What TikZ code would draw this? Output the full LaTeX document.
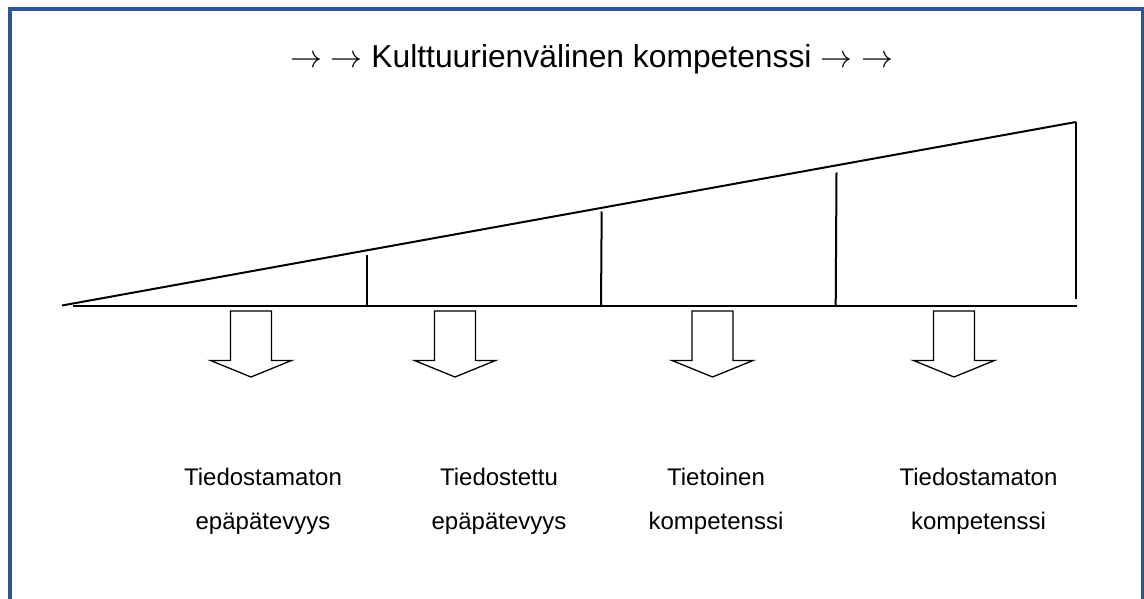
\documentclass[tikz,border=0pt]{standalone}
\usepackage{fontspec}
\setmainfont{Liberation Sans}
\definecolor{frameblue}{HTML}{2F5597}
\newcommand\ttlarrow{\scalebox{1.28}{$\rightarrow$}}
\begin{document}
\begin{tikzpicture}[x=1pt,y=-1pt,
  frame/.style={draw=frameblue,line width=4pt},
  ln/.style={draw=black,line width=2pt},
  downarrow/.style={draw=black,line width=1.3pt,line join=miter,fill=white},
  lbl/.style={font=\fontsize{24}{44}\selectfont,align=center,anchor=north,inner sep=0pt},
  ttl/.style={font=\fontsize{31.8}{36}\selectfont,anchor=base,inner sep=0pt}]
\useasboundingbox (0,0) rectangle (1144,599);
\begin{scope}
\clip (0,0) rectangle (1144,599);
\draw[frame] (9.5,9.3) rectangle (1143,640);
\end{scope}
% title
\node[ttl] (title) at (591.5,67.7) {\ttlarrow{} \ttlarrow{} Kulttuurienvälinen kompetenssi \ttlarrow{} \ttlarrow};
% wedge coordinates
\coordinate (sl) at (62,305.5);
\coordinate (bl) at (73,306);
\coordinate (br) at (1077,306);
\coordinate (tr) at (1076,122);
\coordinate (rb) at (1076,299);
\coordinate (v1t) at (366.5,255);  \coordinate (v1b) at (366.5,306);
\coordinate (v2t) at (601.7,211.5); \coordinate (v2b) at (601,306);
\coordinate (v3t) at (836.5,172.5); \coordinate (v3b) at (835.7,306);
\draw[ln] (sl) -- (tr);
\draw[ln] (bl) -- (br);
\draw[ln] (tr) -- (rb);
\draw[ln] (v1t) -- (v1b);
\draw[ln] (v2t) -- (v2b);
\draw[ln] (v3t) -- (v3b);
% block arrows
\foreach \c/\n in {251/a1,455/a2,712.5/a3,954/a4}{
  \draw[downarrow] (\c-20.5,311) -- (\c+20.5,311) -- (\c+20.5,360.5) -- (\c+40.5,360.5)
     -- (\c,377) -- (\c-40.5,360.5) -- (\c-20.5,360.5) -- cycle;
  \coordinate (\n) at (\c,377);
}
% labels
\node[lbl] (l1) at (263,468) {Tiedostamaton\\epäpätevyys};
\node[lbl] (l2) at (499,468) {Tiedostettu\\epäpätevyys};
\node[lbl] (l3) at (716,468) {Tietoinen\\kompetenssi};
\node[lbl] (l4) at (978.5,468) {Tiedostamaton\\kompetenssi};
\end{tikzpicture}
\end{document}
